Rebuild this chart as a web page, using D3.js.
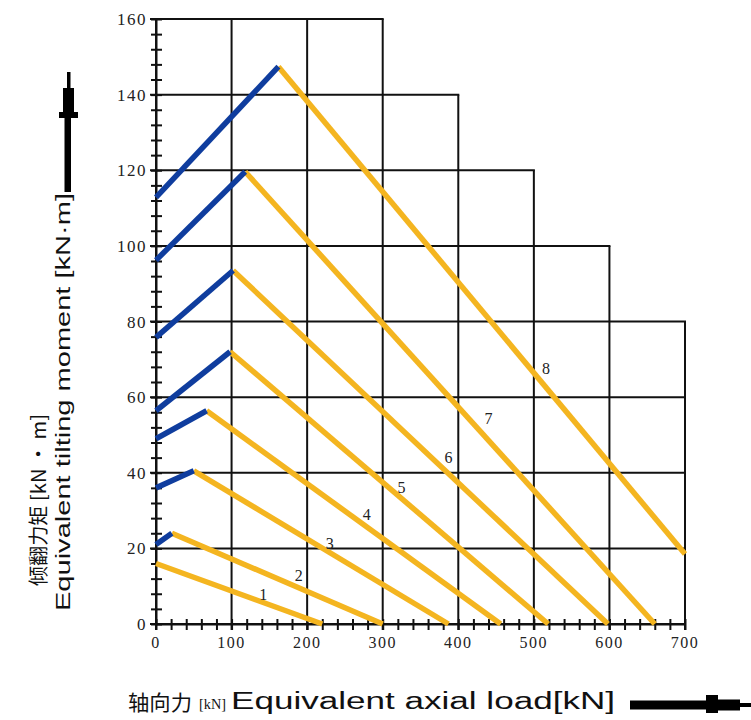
<!DOCTYPE html>
<html>
<head>
<meta charset="utf-8">
<script src="https://cdn.jsdelivr.net/npm/d3@7"></script>
<style>
  html, body { margin: 0; padding: 0; background: #fff; }
  svg { display: block; }
</style>
</head>
<body>
<svg id="chart" width="751" height="720"></svg>
<script>
// ---------------- data ----------------
const curveIds      = [1, 2, 3, 4, 5, 6, 7, 8];
const startMoment   = [16, 21, 36, 49, 56.4, 75.8, 96.2, 112.8];   // moment at zero axial load (kN·m)
const peakLoad      = [0, 21, 50, 67, 98, 102, 118, 162];         // end of blue segment (kN)
const peakMoment    = [16, 24, 40.5, 56.4, 72, 93.5, 119.6, 147.4];
const endLoad       = [220, 300, 387, 456, 519, 598, 660, 700];
const endMoment     = [0, 0, 0, 0, 0, 0, 0, 18.5];
const labelLoad     = [142, 189, 230, 279, 325, 387, 440, 516];
const labelMoment   = [7.9, 13, 21.5, 29, 36.1, 44.2, 54.5, 67.7];

const xTicks = [0, 100, 200, 300, 400, 500, 600, 700];
const xTickLabels = ["0", "100", "200", "300", "400", "500", "600", "700"];
const yTicks = [0, 20, 40, 60, 80, 100, 120, 140, 160];
const yTickLabels = ["0", "20", "40", "60", "80", "100", "120", "140", "160"];
const vGridTop  = [160, 160, 160, 160, 140, 120, 100, 80];   // top of each vertical grid line
const hGridRight = [700, 700, 700, 700, 700, 600, 500, 400, 300]; // right end of each horizontal grid line

const yTitleCn = "倾翻力矩 [kN • m]";
const yTitleEn = "Equivalent tilting moment [kN·m]";
const xTitleCn = "轴向力";
const xTitleUnit = "[kN]";
const xTitleEn = "Equivalent axial load[kN]";

// ---------------- layout ----------------
const svg = d3.select("#chart");
const x = d3.scaleLinear().domain([0, 700]).range([156, 685]);
const y = d3.scaleLinear().domain([0, 160]).range([624, 19]);

const BLUE = "#0f3d9e";
const YELLOW = "#f4b520";

// grid
const g = svg.append("g");
g.selectAll("line.v").data(xTicks).join("line")
  .attr("x1", d => x(d)).attr("x2", d => x(d))
  .attr("y1", (d, i) => y(vGridTop[i])).attr("y2", y(0) + 6)
  .attr("stroke", "#111").attr("stroke-width", 2);
g.selectAll("line.h").data(yTicks).join("line")
  .attr("x1", x(0) - 6).attr("x2", (d, i) => x(hGridRight[i]) + 1)
  .attr("y1", d => y(d)).attr("y2", d => y(d))
  .attr("stroke", "#111").attr("stroke-width", 2);

// axes with minor ticks
const xAxis = d3.axisBottom(x).tickValues(d3.range(0, 701, 20)).tickSize(0).tickFormat("");
const xa = svg.append("g").attr("transform", `translate(0,${y(0)})`).call(xAxis);
xa.select(".domain").attr("stroke", "#111").attr("stroke-width", 2);
xa.selectAll(".tick line").attr("y1", -5).attr("y2", 6).attr("stroke", "#111").attr("stroke-width", 2);

const yAxis = d3.axisLeft(y).tickValues(d3.range(0, 161, 4)).tickSize(0).tickFormat("");
const ya = svg.append("g").attr("transform", `translate(${x(0)},0)`).call(yAxis);
ya.select(".domain").attr("stroke", "#111").attr("stroke-width", 2);
ya.selectAll(".tick line").attr("x1", -5).attr("x2", 6).attr("stroke", "#111").attr("stroke-width", 2);

// tick labels
svg.append("g").selectAll("text").data(xTicks).join("text")
  .attr("x", d => x(d)).attr("y", 648)
  .attr("text-anchor", "middle")
  .attr("font-family", "Liberation Serif, DejaVu Serif, serif")
  .attr("font-size", 16).attr("letter-spacing", 1.5).attr("fill", "#222")
  .text((d, i) => xTickLabels[i]);
svg.append("g").selectAll("text").data(yTicks).join("text")
  .attr("x", 147).attr("y", d => y(d) + 6)
  .attr("text-anchor", "end")
  .attr("font-family", "Liberation Serif, DejaVu Serif, serif")
  .attr("font-size", 17).attr("letter-spacing", 1.5).attr("fill", "#222")
  .text((d, i) => yTickLabels[i]);

// curves
const line = d3.line().x(d => x(d[0])).y(d => y(d[1]));
const curves = curveIds.map((id, i) => ({
  id,
  blue: [[0, startMoment[i]], [peakLoad[i], peakMoment[i]]],
  yellow: [[peakLoad[i], peakMoment[i]], [endLoad[i], endMoment[i]]],
  hasBlue: peakLoad[i] > 0
}));
const cg = svg.append("g");
cg.selectAll("path.y").data(curves).join("path")
  .attr("d", d => line(d.yellow)).attr("fill", "none")
  .attr("stroke", YELLOW).attr("stroke-width", 5.5);
cg.selectAll("path.b").data(curves.filter(d => d.hasBlue)).join("path")
  .attr("d", d => line(d.blue)).attr("fill", "none")
  .attr("stroke", BLUE).attr("stroke-width", 5.5);

// curve labels
svg.append("g").selectAll("text").data(curveIds).join("text")
  .attr("x", (d, i) => x(labelLoad[i])).attr("y", (d, i) => y(labelMoment[i]) + 6)
  .attr("text-anchor", "middle")
  .attr("font-family", "Liberation Serif, DejaVu Serif, serif")
  .attr("font-size", 16).attr("fill", "#222")
  .text(d => d);

// axis titles
svg.append("text")
  .attr("transform", "translate(46,586) rotate(-90)")
  .attr("text-anchor", "start")
  .attr("font-family", "Noto Sans CJK SC, sans-serif")
  .attr("font-size", 20).attr("fill", "#111")
  .attr("textLength", 172).attr("lengthAdjust", "spacingAndGlyphs")
  .text(yTitleCn);
svg.append("text")
  .attr("transform", "translate(70,611) rotate(-90)")
  .attr("text-anchor", "start")
  .attr("font-family", "Liberation Sans, Arial, sans-serif")
  .attr("font-size", 21).attr("fill", "#111")
  .attr("textLength", 418).attr("lengthAdjust", "spacingAndGlyphs")
  .text(yTitleEn);

svg.append("text")
  .attr("x", 128).attr("y", 710)
  .attr("font-family", "Noto Sans CJK SC, sans-serif")
  .attr("font-size", 21).attr("fill", "#111")
  .attr("textLength", 64).attr("lengthAdjust", "spacingAndGlyphs")
  .text(xTitleCn);
svg.append("text")
  .attr("x", 199).attr("y", 709)
  .attr("font-family", "Liberation Serif, serif")
  .attr("font-size", 15).attr("fill", "#111")
  .attr("textLength", 27).attr("lengthAdjust", "spacingAndGlyphs")
  .text(xTitleUnit);
svg.append("text")
  .attr("x", 231).attr("y", 709)
  .attr("font-family", "Liberation Sans, Arial, sans-serif")
  .attr("font-size", 23).attr("fill", "#111")
  .attr("textLength", 384).attr("lengthAdjust", "spacingAndGlyphs")
  .text(xTitleEn);

// arrows (stacked blocks)
const yArrow = [[64.5, 115, 6.5, 77], [59, 112, 19, 6], [63, 88, 11, 24], [67, 72, 3.5, 16]];
const xArrow = [[630, 700.5, 77, 9], [706, 695, 12, 18], [718, 699.5, 22, 11], [740, 703, 11, 4]];
svg.append("g").selectAll("rect").data(yArrow.concat(xArrow)).join("rect")
  .attr("x", d => d[0]).attr("y", d => d[1]).attr("width", d => d[2]).attr("height", d => d[3])
  .attr("fill", "#000");
</script>
</body>
</html>
